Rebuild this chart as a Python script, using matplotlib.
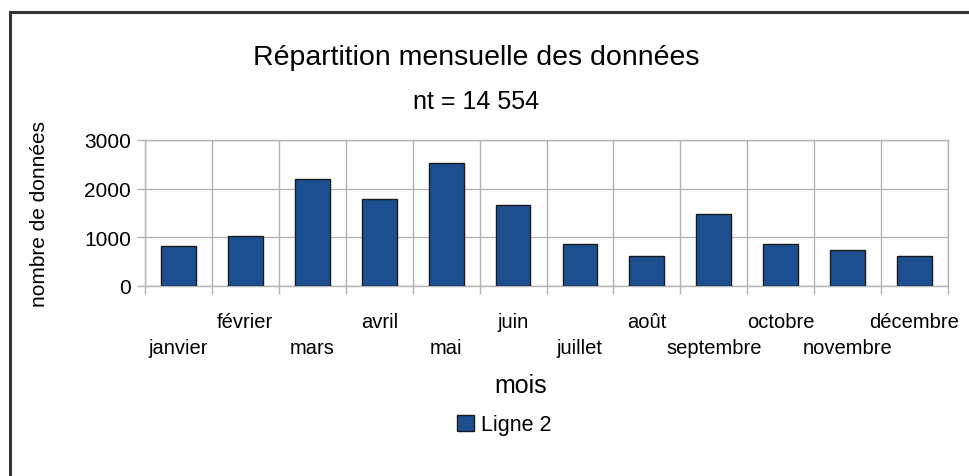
#!/usr/bin/env python3
import matplotlib
matplotlib.use("Agg")
import matplotlib.pyplot as plt
from matplotlib.lines import Line2D
from matplotlib.patches import Patch

mois = ["janvier", "février", "mars", "avril", "mai", "juin", "juillet",
        "août", "septembre", "octobre", "novembre", "décembre"]
nb_donnees = [828, 1021, 2199, 1794, 2527, 1671, 863, 623, 1473, 863, 746, 623]
y_ticks = [0, 1000, 2000, 3000]

plt.rcParams["font.family"] = ["Liberation Sans", "DejaVu Sans"]

W, H = 969, 477
fig = plt.figure(figsize=(W / 100, H / 100), dpi=100)
ax = fig.add_axes([145 / W, 1 - 287 / H, (948 - 145) / W, (287 - 141) / H])

x = list(range(len(mois)))
ax.bar(x, nb_donnees, width=0.52, color="#1c4f8f", edgecolor="#1a1a1a",
       linewidth=1.0, zorder=3)

ax.set_xlim(-0.5, len(mois) - 0.5)
ax.set_ylim(0, 3000)
ax.set_yticks(y_ticks)
ax.set_xticks([i - 0.5 for i in range(len(mois) + 1)])
ax.set_xticklabels([])
ax.grid(True, color="#b3b3b3", linewidth=1.0, zorder=0)
ax.tick_params(axis="both", color="#b3b3b3", length=6, width=1.0,
               labelsize=15, pad=4)
for s in ax.spines.values():
    s.set_color("#b3b3b3")
    s.set_linewidth(1.0)

# staggered month labels
for i, m in enumerate(mois):
    dy = -36 if i % 2 == 1 else -61
    ax.annotate(m, xy=(i, 0), xycoords=("data", "axes fraction"),
                xytext=(0, dy * 0.72), textcoords="offset points",
                ha="center", va="center", fontsize=14.5)

fig.text(40 / W, 1 - 214 / H, "nombre de données", rotation=90,
         ha="center", va="center", fontsize=15)
fig.text(521 / W, 1 - 386 / H, "mois", ha="center", va="center", fontsize=18)

fig.text(476 / W, 1 - 58 / H, "Répartition mensuelle des données",
         ha="center", va="center", fontsize=20.5)
fig.text(476 / W, 1 - 102 / H, "nt = 14 554", ha="center", va="center",
         fontsize=18)

handle = Patch(facecolor="#1c4f8f", edgecolor="#1a1a1a", linewidth=1.0)
fig.legend([handle], ["Ligne 2"], loc="center", bbox_to_anchor=(504 / W, 1 - 426 / H),
           frameon=False, fontsize=15.5, handlelength=0.8, handleheight=0.8,
           handletextpad=0.3, borderpad=0)

# outer frame (top and left edges visible)
fig.add_artist(Line2D([10 / W, 10 / W], [0, 1 - 13 / H], transform=fig.transFigure,
                      color="#333333", linewidth=2.2))
fig.add_artist(Line2D([10 / W, 1], [1 - 13 / H, 1 - 13 / H], transform=fig.transFigure,
                      color="#333333", linewidth=2.2))

fig.savefig("out.png", dpi=100)
